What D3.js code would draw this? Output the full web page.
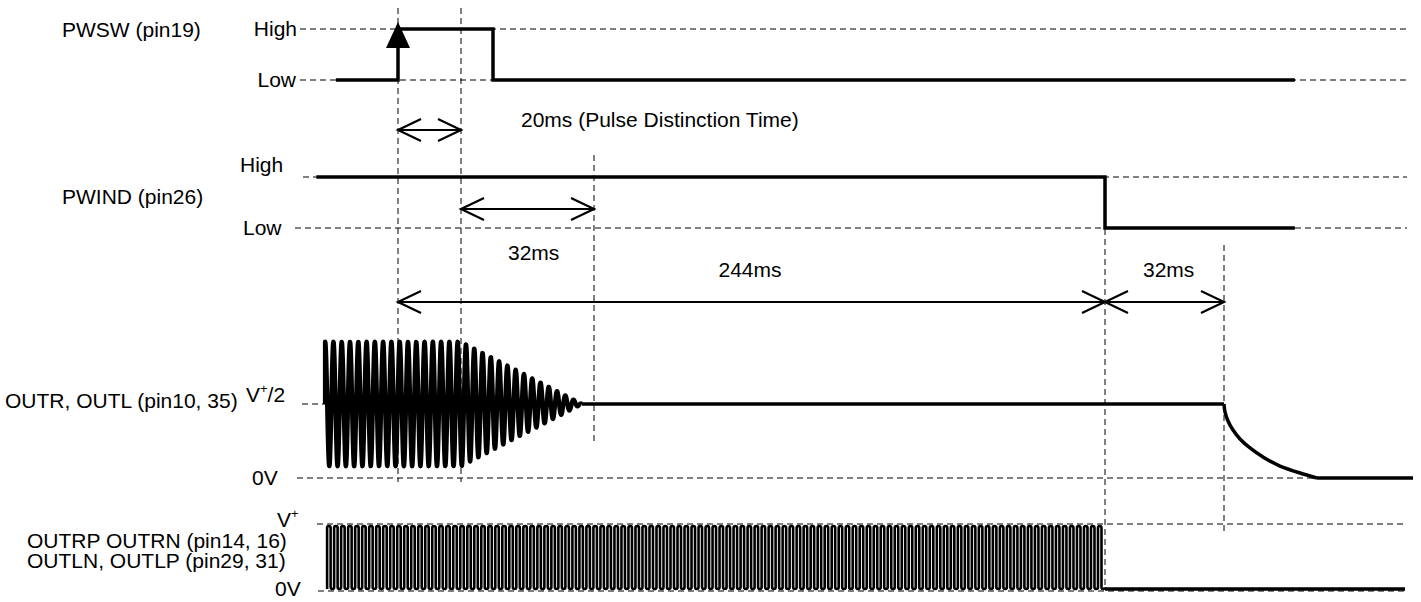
<!DOCTYPE html>
<html>
<head>
<meta charset="utf-8">
<script src="https://cdn.jsdelivr.net/npm/d3@7"></script>
<style>
body { margin: 0; background: #fff; }
svg text { font-family: "Liberation Sans", Arial, sans-serif; font-size: 21px; fill: #000; }
</style>
</head>
<body>
<div id="chart"></div>
<script>
// timing markers in ms (diagram is not to scale, so the scale is piecewise)
var timeBreaks = [-30, 0, 20, 52, 244, 276, 340];

// digital signals: [time, level]
var pwswSteps = [[-19, 0], [0, 1], [27.7, 0], [300, 0]];
var pwindSteps = [[-25, 1], [244, 0], [300, 0]];

// OUTR/OUTL analog output (level in V+ units)
var burstTimes = [-22.3, 20, 49.1];
var burstAmps = [0.42, 0.42, 0];
var burstCycles = 31;
var outrHold = [[49.1, 0.5], [276, 0.5]];
var outrDecay = [[276, 0.5], [276.34, 0.446], [277.35, 0.385], [279.05, 0.324], [281.42, 0.264],
	[284.8, 0.203], [289.2, 0.142], [294.97, 0.081], [301.74, 0.034], [307.5, 0]];
var outrRest = [[307.5, 0], [340, 0]];

// OUTRP/OUTRN PWM outputs
var pwmSpan = [-21.7, 244];
var pwmCycles = 111;
var pwmOff = [[244, 0], [337.3, 0]];

var markers = [0, 20, 52, 244, 276];
var spans = [[0, 20], [20, 52], [0, 244], [244, 276]];
var spanLabels = ["20ms (Pulse Distinction Time)", "32ms", "244ms", "32ms"];
var rowNames = ["PWSW (pin19)", "PWIND (pin26)", "OUTR, OUTL (pin10, 35)", "OUTRP OUTRN (pin14, 16)", "OUTLN, OUTLP (pin29, 31)"];
var levelNames = ["High", "Low", "High", "Low", "V/2", "0V", "V", "0V"];

var width = 1421, height = 602;

var svg = d3.select("#chart").append("svg")
		.attr("width", width)
		.attr("height", height)
		.style("background", "#fff");

var x = d3.scaleLinear().domain(timeBreaks).range([300, 398, 461, 594, 1105, 1224, 1413]);

var yPwsw = d3.scaleLinear().domain([0, 1]).range([80, 29]);
var yPwind = d3.scaleLinear().domain([0, 1]).range([228, 177]);
var yOut = d3.scaleLinear().domain([0, 0.5]).range([478, 404]);
var yPwm = d3.scaleLinear().domain([0, 1]).range([589, 526]);

// ---- dashed guide lines
var guides = svg.append("g").attr("id", "guides")
		.attr("stroke", "#000")
		.attr("stroke-width", 1)
		.attr("stroke-dasharray", "6,4")
		.attr("fill", "none");

var hGuides = [
	{x1: 300, x2: 1407, y: yPwsw(1)},
	{x1: 300, x2: 1407, y: yPwsw(0)},
	{x1: 303, x2: 1407, y: yPwind(1)},
	{x1: 295, x2: 1407, y: yPwind(0)},
	{x1: 302, x2: x(276), y: yOut(0.5)},
	{x1: 297, x2: 1407, y: yOut(0)},
	{x1: 317, x2: 1407, y: 524},
	{x1: 318, x2: 1407, y: 591}
];

guides.selectAll("line.h")
		.data(hGuides)
		.enter()
		.append("line")
		.attr("class", "h")
		.attr("x1", function(d) {return d.x1})
		.attr("x2", function(d) {return d.x2})
		.attr("y1", function(d) {return d.y})
		.attr("y2", function(d) {return d.y});

var markerExtent = [[8, 482], [8, 482], [155, 445], [229, 590], [245, 535]];

guides.selectAll("line.v")
		.data(markers)
		.enter()
		.append("line")
		.attr("class", "v")
		.attr("x1", function(d) {return x(d)})
		.attr("x2", function(d) {return x(d)})
		.attr("y1", function(d, i) {return markerExtent[i][0]})
		.attr("y2", function(d, i) {return markerExtent[i][1]});

// ---- signals
var sig = svg.append("g").attr("id", "signals")
		.attr("fill", "none")
		.attr("stroke", "#000")
		.attr("stroke-width", 3.5);

var stepLine = function(yScale) {
	return d3.line()
			.x(function(d) {return x(d[0])})
			.y(function(d) {return yScale(d[1])})
			.curve(d3.curveStepAfter);
};

sig.append("path").attr("d", stepLine(yPwsw)(pwswSteps));
sig.append("path").attr("d", stepLine(yPwind)(pwindSteps));

// rising edge arrow on PWSW
svg.append("path")
		.attr("d", "M" + x(0) + "," + (yPwsw(1) - 7) + "L" + (x(0) - 12) + "," + (yPwsw(1) + 19) + "L" + (x(0) + 12) + "," + (yPwsw(1) + 19) + "Z")
		.attr("fill", "#000");

// OUTR burst
var amp = d3.scaleLinear().domain(burstTimes).range(burstAmps);
var bx0 = x(burstTimes[0]), bx1 = x(burstTimes[burstTimes.length - 1]);
var burstPts = [[bx0, yOut(0.5)]];
for (var px = bx0; px <= bx1; px += 0.25) {
	var ph = burstCycles * (px - bx0) / (bx1 - bx0);
	var v = 0.5 + amp(x.invert(px)) * Math.cos(2 * Math.PI * ph);
	burstPts.push([px, yOut(v)]);
}
sig.append("path")
		.attr("stroke-width", 4.5)
		.attr("stroke-linejoin", "round")
		.attr("d", d3.line()(burstPts));

var valLine = d3.line()
		.x(function(d) {return x(d[0])})
		.y(function(d) {return yOut(d[1])});

sig.append("path").attr("d", valLine(outrHold));
sig.append("path").attr("d", valLine.curve(d3.curveMonotoneY)(outrDecay));
sig.append("path").attr("d", valLine.curve(d3.curveLinear)(outrRest));

// PWM serpentine
var pwmX0 = x(pwmSpan[0]), pwmX1 = x(pwmSpan[1]);
var halfW = (pwmX1 - pwmX0) / (2 * pwmCycles), rad = halfW / 2;
var pwmHi = yPwm(1), pwmLo = yPwm(0);
var p = d3.path();
p.moveTo(pwmX0, pwmLo);
for (var i = 0; i < 2 * pwmCycles; i++) {
	var xi = pwmX0 + i * halfW;
	if (i % 2 == 0) {
		p.lineTo(xi, pwmHi + rad);
		p.arc(xi + rad, pwmHi + rad, rad, Math.PI, 2 * Math.PI, false);
	} else {
		p.lineTo(xi, pwmLo - rad);
		p.arc(xi + rad, pwmLo - rad, rad, Math.PI, 0, true);
	}
}
p.lineTo(pwmX1, pwmLo);
sig.append("path")
		.attr("stroke-width", 2.6)
		.attr("d", p.toString());

sig.append("path")
		.attr("d", d3.line()
			.x(function(d) {return x(d[0])})
			.y(function(d) {return yPwm(d[1])})(pwmOff));

// ---- span arrows
var spanY = [130, 209, 302, 302];
var arrows = svg.append("g").attr("id", "arrows")
		.attr("fill", "none")
		.attr("stroke", "#000")
		.attr("stroke-width", 2.2);

arrows.selectAll("path")
		.data(spans)
		.enter()
		.append("path")
		.attr("d", function(d, i) {
			var a = x(d[0]), b = x(d[1]), y = spanY[i], L = 23, H = 11;
			return "M" + a + "," + y + "L" + b + "," + y
				+ "M" + (a + L) + "," + (y - H) + "L" + a + "," + y + "L" + (a + L) + "," + (y + H)
				+ "M" + (b - L) + "," + (y - H) + "L" + b + "," + y + "L" + (b - L) + "," + (y + H);
		});

var spanText = [
	{x: 521, y: 127, anchor: "start"},
	{x: 508, y: 260, anchor: "start"},
	{x: 750, y: 277, anchor: "middle"},
	{x: 1143, y: 277, anchor: "start"}
];

svg.append("g").selectAll("text")
		.data(spanLabels)
		.enter()
		.append("text")
		.attr("x", function(d, i) {return spanText[i].x})
		.attr("y", function(d, i) {return spanText[i].y})
		.attr("text-anchor", function(d, i) {return spanText[i].anchor})
		.text(function(d) {return d});

// ---- row names
var rowPos = [[62, 37], [62, 204], [5, 408], [27, 548], [27, 568]];
svg.append("g").selectAll("text")
		.data(rowNames)
		.enter()
		.append("text")
		.attr("x", function(d, i) {return rowPos[i][0]})
		.attr("y", function(d, i) {return rowPos[i][1]})
		.text(function(d) {return d});

// ---- level names (V gets a superscript +)
var levelPos = [
	{x: 297, y: 36, anchor: "end"},
	{x: 296, y: 87, anchor: "end"},
	{x: 240, y: 172, anchor: "start"},
	{x: 243, y: 235, anchor: "start"},
	{x: 246, y: 402, anchor: "start"},
	{x: 252, y: 485, anchor: "start"},
	{x: 277, y: 527, anchor: "start"},
	{x: 275, y: 596, anchor: "start"}
];

svg.append("g").selectAll("text")
		.data(levelNames)
		.enter()
		.append("text")
		.attr("x", function(d, i) {return levelPos[i].x})
		.attr("y", function(d, i) {return levelPos[i].y})
		.attr("text-anchor", function(d, i) {return levelPos[i].anchor})
		.each(function(d) {
			var t = d3.select(this);
			if (d.charAt(0) == "V") {
				t.append("tspan").text("V");
				t.append("tspan").attr("font-size", "13px").attr("dy", -9).text("+");
				if (d.length > 1) t.append("tspan").attr("dy", 9).text(d.substring(1));
			} else {
				t.text(d);
			}
		});
</script>
</body>
</html>
